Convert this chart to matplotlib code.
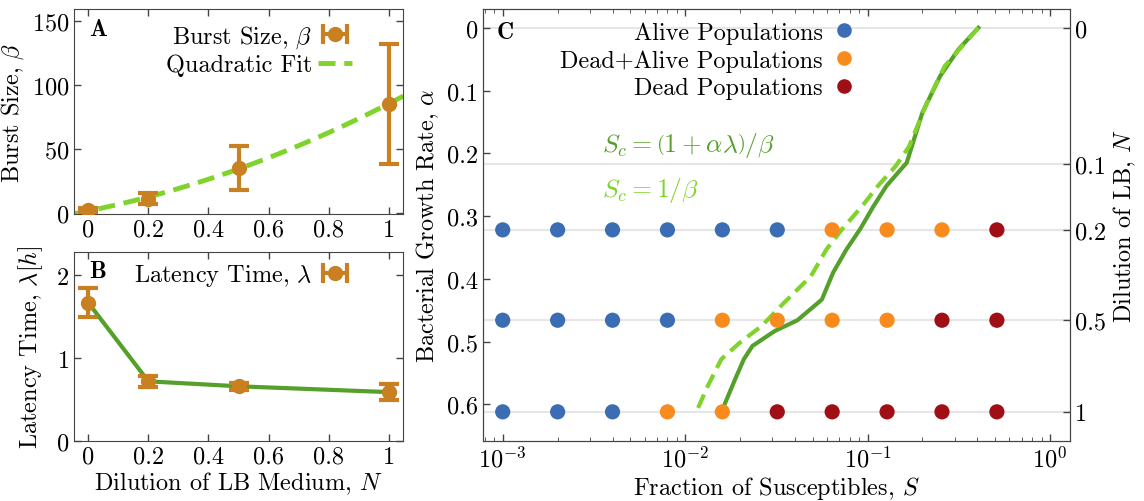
import numpy as np
import matplotlib
matplotlib.use('Agg')
import matplotlib.pyplot as plt
from matplotlib.lines import Line2D

plt.rcParams['font.family'] = 'cmr10'
plt.rcParams['mathtext.fontset'] = 'cm'
plt.rcParams['axes.formatter.use_mathtext'] = True
plt.rcParams['font.size'] = 17.5
plt.rcParams['axes.edgecolor'] = '#444444'
plt.rcParams['xtick.color'] = '#444444'
plt.rcParams['ytick.color'] = '#444444'
plt.rcParams['xtick.labelcolor'] = 'black'
plt.rcParams['ytick.labelcolor'] = 'black'

# --- misure di burst size e latency time in funzione della diluizione ---
dilution = [0, 0.2, 0.5, 1]
burst = [2, 11, 35, 85]
burst_err = [1.5, 4.5, 17, 47]
latency = [1.67, 0.72, 0.66, 0.59]
latency_err = [0.18, 0.07, 0.04, 0.10]

dil_ticks = [0, 0.2, 0.4, 0.6, 0.8, 1]
dil_ticklabels = ['0', '0.2', '0.4', '0.6', '0.8', '1']
burst_ticks = [0, 50, 100, 150]
lat_ticks = [0, 1, 2]

# --- diagramma di fase: frazione di suscettibili vs tasso di crescita ---
susceptibles = [0.001, 0.002, 0.004, 0.008, 0.016, 0.032, 0.064, 0.128, 0.256, 0.512]
row_alpha = [0.322, 0.466, 0.612]
# A = vive, M = morte+vive, D = morte
row_states = [
    ['A', 'A', 'A', 'A', 'A', 'A', 'M', 'M', 'M', 'D'],
    ['A', 'A', 'A', 'A', 'M', 'M', 'M', 'M', 'D', 'D'],
    ['A', 'A', 'A', 'M', 'M', 'D', 'D', 'D', 'D', 'D'],
]

# soglia S_c = (1 + alpha*lambda)/beta
sc_full_alpha = [0, 0.035, 0.077, 0.135, 0.215, 0.252, 0.284, 0.321, 0.353,
                 0.390, 0.433, 0.466, 0.483, 0.507, 0.528, 0.56, 0.603, 0.612]
sc_full_s = [0.405, 0.314, 0.250, 0.200, 0.164, 0.127, 0.108, 0.091, 0.0767,
             0.0648, 0.0562, 0.0413, 0.0311, 0.0234, 0.0210, 0.0188, 0.0163, 0.0160]
# soglia S_c = 1/beta
sc_simple_alpha = [0, 0.061, 0.119, 0.189, 0.220, 0.252, 0.284, 0.321, 0.353,
                   0.396, 0.438, 0.475, 0.502, 0.528, 0.571, 0.610]
sc_simple_s = [0.405, 0.265, 0.212, 0.169, 0.143, 0.114, 0.0935, 0.0725, 0.0596,
               0.0489, 0.0349, 0.0263, 0.0199, 0.0158, 0.0133, 0.0116]

# asse destro: diluizione di LB e corrispondente alpha
lb_dilution = ['0', '0.1', '0.2', '0.5', '1']
lb_alpha = [0, 0.217, 0.322, 0.466, 0.612]

alpha_ticks = [0, 0.1, 0.2, 0.3, 0.4, 0.5, 0.6]
alpha_ticklabels = ['0', '0.1', '0.2', '0.3', '0.4', '0.5', '0.6']

# colori
c_err = '#c98020'
c_dark_green = '#55a02a'
c_lime = '#7fd32a'
state_colors = {'A': '#3a6db3', 'M': '#f88a1e', 'D': '#a00f16'}
state_labels = {'A': 'Alive Populations', 'M': 'Dead+Alive Populations',
                'D': 'Dead Populations'}

fig = plt.figure(figsize=(11.44, 5.02), dpi=100)
ax_a = fig.add_axes([0.0647, 0.5717, 0.2876, 0.4084])
ax_b = fig.add_axes([0.0647, 0.1195, 0.2876, 0.3765])
ax_c = fig.add_axes([0.4219, 0.1201, 0.5134, 0.8600])

err_style = dict(fmt='o', color=c_err, ms=10, elinewidth=3, capsize=7,
                 capthick=3)

for ax in (ax_a, ax_b, ax_c):
    ax.tick_params(direction='in', top=True, length=5, width=1)
    ax.tick_params(which='minor', direction='in', top=True, length=3)

# ---------------- pannello A ----------------
ax_a.errorbar(dilution, burst, yerr=burst_err, zorder=3, **err_style)
coef = np.polyfit(dilution, burst, 2)
xf = np.linspace(-0.05, 1.05, 200)
fit_line, = ax_a.plot(xf, np.polyval(coef, xf), color=c_lime, lw=3.5,
                      dashes=(3.5, 1.8), zorder=2, label='Quadratic Fit')
proxy_a = ax_a.errorbar([np.nan], [np.nan], xerr=[1], label=r'Burst Size, $\beta$',
                        **err_style)
ax_a.set_xlim(-0.047, 1.047)
ax_a.set_ylim(-1, 159)
ax_a.set_xticks(dil_ticks)
ax_a.set_xticklabels(dil_ticklabels)
ax_a.set_yticks(burst_ticks)
ax_a.tick_params(right=True)
ax_a.set_ylabel(r'Burst Size, $\beta$', labelpad=4)
ax_a.legend(handles=[proxy_a, fit_line], loc='upper right',
            bbox_to_anchor=(0.845, 0.93), markerfirst=False, frameon=False,
            handlelength=1.4, handletextpad=0.25, borderpad=0,
            borderaxespad=0, labelspacing=0.15)
ax_a.text(0.045, 0.9, 'A', transform=ax_a.transAxes, fontfamily='cmb10',
          fontsize=17, va='center')

# ---------------- pannello B ----------------
ax_b.errorbar(dilution, latency, yerr=latency_err, zorder=3, **err_style)
ax_b.plot(dilution, latency, color=c_dark_green, lw=3, zorder=2)
proxy_b = ax_b.errorbar([np.nan], [np.nan], xerr=[1],
                        label=r'Latency Time, $\lambda$', **err_style)
ax_b.set_xlim(-0.047, 1.047)
ax_b.set_ylim(0, 2.28)
ax_b.set_xticks(dil_ticks)
ax_b.set_xticklabels(dil_ticklabels)
ax_b.set_yticks(lat_ticks)
ax_b.tick_params(right=True)
ax_b.set_ylabel(r'Latency Time, $\lambda[h]$', labelpad=8)
ax_b.set_xlabel(r'Dilution of LB Medium, $N$', labelpad=1)
ax_b.legend(handles=[proxy_b], loc='upper right',
            bbox_to_anchor=(0.845, 0.945), markerfirst=False, frameon=False,
            handlelength=1.4, handletextpad=0.25, borderpad=0,
            borderaxespad=0)
ax_b.text(0.045, 0.9, 'B', transform=ax_b.transAxes, fontfamily='cmb10',
          fontsize=17, va='center')

# ---------------- pannello C ----------------
for a in lb_alpha:
    ax_c.axhline(a, color='#e6e6e6', lw=1.5, zorder=0)

for alpha, states in zip(row_alpha, row_states):
    cols = [state_colors[s] for s in states]
    ax_c.scatter(susceptibles, [alpha] * len(susceptibles), s=120, c=cols,
                 edgecolors='none', zorder=3)

ax_c.plot(sc_full_s, sc_full_alpha, color=c_dark_green, lw=3, zorder=2)
ax_c.plot(sc_simple_s, sc_simple_alpha, color=c_lime, lw=3,
          dashes=(3.5, 1.8), zorder=2)

ax_c.set_xscale('log')
ax_c.set_xlim(10 ** -3.11, 10 ** 0.11)
ax_c.set_ylim(0.658, -0.03)
ax_c.set_yticks(alpha_ticks)
ax_c.set_yticklabels(alpha_ticklabels)
ax_c.set_xlabel(r'Fraction of Susceptibles, $S$', labelpad=2)
ax_c.set_ylabel(r'Bacterial Growth Rate, $\alpha$', labelpad=4)

ax_r = ax_c.twinx()
ax_r.set_ylim(ax_c.get_ylim())
ax_r.set_yticks(lb_alpha)
ax_r.set_yticklabels(lb_dilution)
ax_r.tick_params(direction='in', length=5, width=1)
ax_r.set_ylabel(r'Dilution of LB, $N$', labelpad=4)

handles = [Line2D([], [], ls='none', marker='o', ms=10.5, mec='none',
                  mfc=state_colors[k], label=state_labels[k]) for k in 'AMD']
ax_c.legend(handles=handles, loc='upper right', bbox_to_anchor=(0.631, 0.972),
            markerfirst=False, frameon=False, handlelength=0.75,
            handletextpad=0.5, borderpad=0, borderaxespad=0,
            labelspacing=0.23)

ax_c.text(0.203, 0.687, r'$S_c = \left(1 + \alpha\lambda\right)/\beta$',
          transform=ax_c.transAxes, color=c_dark_green, fontsize=18.5,
          va='center')
ax_c.text(0.203, 0.583, r'$S_c = 1/\beta$', transform=ax_c.transAxes,
          color=c_lime, fontsize=18.5, va='center')
ax_c.text(0.023, 0.947, 'C', transform=ax_c.transAxes, fontfamily='cmb10',
          fontsize=17, va='center')

fig.savefig('out.png', dpi=100)
